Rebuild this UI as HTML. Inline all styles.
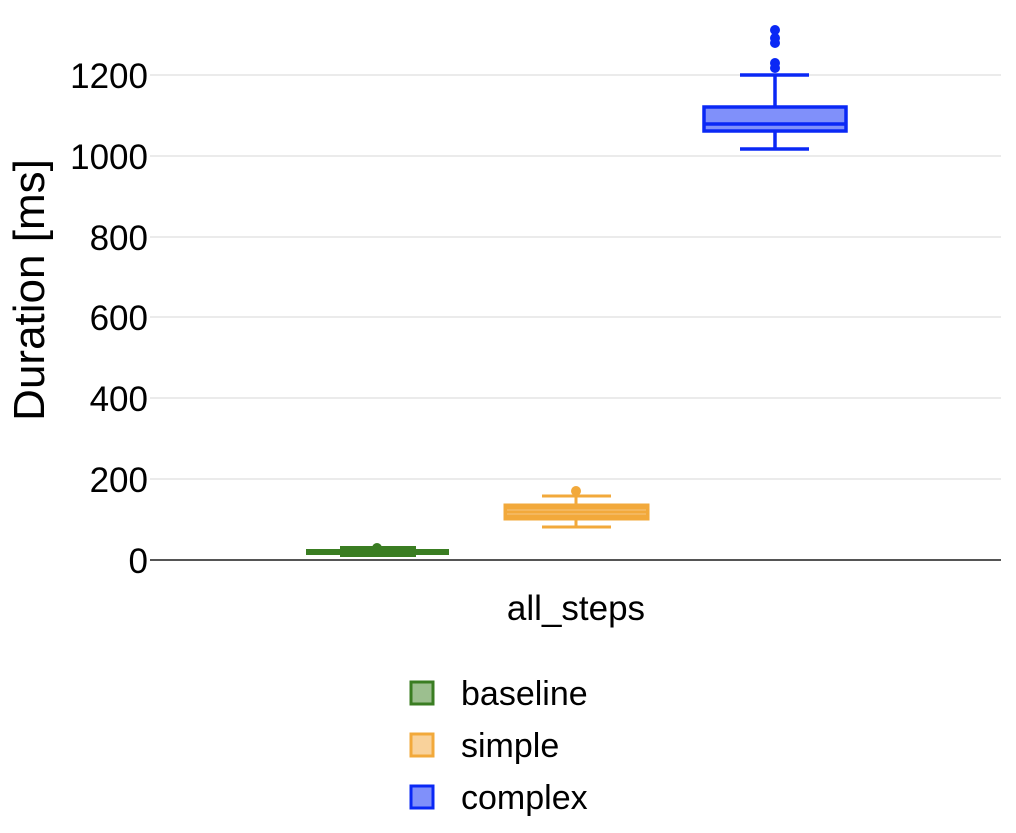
<!DOCTYPE html>
<html><head><style>body{margin:0;background:#fff}</style></head><body>
<svg width="1016" height="828" xmlns="http://www.w3.org/2000/svg" font-family="Liberation Sans, sans-serif">
<g stroke="#ebebeb" stroke-width="2">
<line x1="150" x2="1001" y1="75" y2="75"/><line x1="150" x2="1001" y1="156" y2="156"/>
<line x1="150" x2="1001" y1="237" y2="237"/><line x1="150" x2="1001" y1="317" y2="317"/>
<line x1="150" x2="1001" y1="398" y2="398"/><line x1="150" x2="1001" y1="479" y2="479"/>
</g>
<line x1="150" x2="1001" y1="560" y2="560" stroke="#555" stroke-width="2"/>
<g font-size="35" text-anchor="end" fill="#000">
<text x="148" y="88">1200</text><text x="148" y="169">1000</text><text x="148" y="250">800</text>
<text x="148" y="330">600</text><text x="148" y="411">400</text><text x="148" y="492">200</text><text x="148" y="573">0</text>
</g>
<text transform="translate(44,290) rotate(-90)" font-size="44" text-anchor="middle">Duration [ms]</text>
<text x="576" y="620" font-size="35" text-anchor="middle">all_steps</text>
<!-- baseline -->
<g stroke="#3a7d22" stroke-width="6" fill="#3a7d22">
<line x1="306" x2="449" y1="552" y2="552"/>
<rect x="343" y="549" width="70" height="5"/>
<circle cx="377" cy="548" r="5" stroke="none"/>
</g>
<!-- simple -->
<g stroke="#f2a93b" stroke-width="3" fill="none">
<line x1="542" x2="611" y1="496" y2="496"/><line x1="542" x2="611" y1="527" y2="527"/>
<line x1="576" x2="576" y1="496" y2="505"/><line x1="576" x2="576" y1="519" y2="527"/>
<rect x="505" y="505" width="143" height="14" fill="#f2a93b"/>
<line x1="507" x2="646" y1="510" y2="510" stroke="#f7c57f" stroke-width="1"/>
<line x1="507" x2="646" y1="514" y2="514" stroke="#f7c57f" stroke-width="1"/>
<circle cx="576" cy="491" r="5" fill="#f2a93b" stroke="none"/>
</g>
<!-- complex -->
<g stroke="#0a28f5" stroke-width="3.5" fill="none">
<line x1="740" x2="809" y1="75" y2="75"/><line x1="740" x2="809" y1="149" y2="149"/>
<line x1="775" x2="775" y1="75" y2="106"/><line x1="775" x2="775" y1="132" y2="149"/>
<rect x="704" y="107" width="142" height="24" fill="#8090fa"/>
<line x1="704" x2="846" y1="124" y2="124"/>
<g fill="#0a28f5" stroke="none">
<circle cx="775" cy="30" r="5"/><circle cx="775" cy="38" r="5"/><circle cx="775" cy="43" r="5"/>
<circle cx="775" cy="63" r="5"/><circle cx="775" cy="68" r="5"/>
</g>
</g>
<!-- legend -->
<rect x="411" y="682" width="22" height="22" fill="#9cbf8f" stroke="#3a7d22" stroke-width="3"/>
<rect x="411" y="734" width="22" height="22" fill="#f9d29b" stroke="#f2a93b" stroke-width="3"/>
<rect x="411" y="786" width="22" height="22" fill="#8090fa" stroke="#0a28f5" stroke-width="3"/>
<g font-size="34"><text x="461" y="705">baseline</text><text x="461" y="757">simple</text><text x="461" y="809">complex</text></g>
</svg>
</body></html>
